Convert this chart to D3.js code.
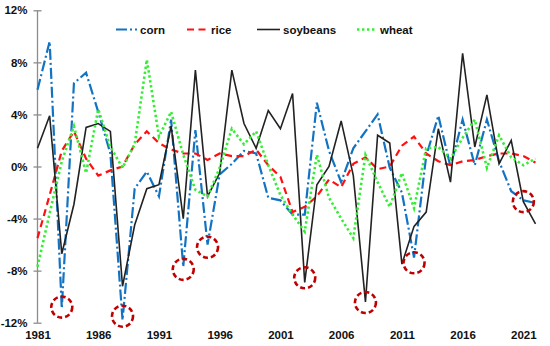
<!DOCTYPE html>
<html>
<head>
<meta charset="utf-8">
<script src="https://cdn.jsdelivr.net/npm/d3@7"></script>
<style>
html,body{margin:0;padding:0;background:#fff;}
svg{display:block;font-family:"Liberation Sans",Arial,sans-serif;}
</style>
</head>
<body>
<svg id="chart" width="550" height="346"></svg>
<script>
const years = d3.range(1981, 2023);
const corn = [5.9,9.6,-10.9,6.4,7.2,4.2,1.0,-11.8,-1.7,-0.4,-2.3,3.6,-7.7,2.8,-6.0,-0.6,0.2,1.2,1.0,-2.4,-2.6,-3.7,-3.7,4.9,1.2,-1.2,1.4,2.7,4.0,-0.1,-2.0,-7.0,0.8,3.9,0.0,3.6,0.1,3.6,0.4,-1.9,-2.6,-2.8];
const rice = [-5.5,-2.2,1.2,2.7,0.6,-0.7,-0.3,0.0,1.7,2.7,1.8,1.3,1.0,1.0,0.5,1.0,0.8,0.8,1.3,0.1,-0.8,-3.5,-3.1,-2.3,-1.0,-1.6,0.2,0.7,-0.2,0.0,1.6,2.3,1.0,0.4,0.1,0.4,0.5,0.8,1.0,1.0,0.8,0.3];
const soybeans = [1.4,3.9,-6.7,-2.9,3.0,3.3,2.7,-9.2,-4.5,-1.7,-1.4,3.1,-4.0,7.4,-2.3,-0.5,7.4,3.3,1.4,4.3,2.9,5.6,-8.9,-1.4,0.0,3.5,-0.7,-10.4,2.4,1.8,-7.5,-4.6,-3.5,2.9,-1.2,8.7,1.5,5.5,0.2,2.0,-2.7,-4.4];
const wheat = [-7.7,-3.6,0.4,3.1,-0.5,4.4,1.5,-0.1,1.7,8.2,2.3,4.2,0.9,-1.8,-2.3,-0.1,2.9,1.7,2.7,0.1,-2.2,-3.7,-5.0,0.9,-2.4,-4.0,-5.5,0.9,-1.2,-3.1,-0.5,-3.2,1.4,1.5,0.6,2.2,3.6,-0.1,2.4,0.7,0.1,0.6];
const seriesNames = ["corn","rice","soybeans","wheat"];
const yTicks = [12,8,4,0,-4,-8,-12];
const xTicks = [1981,1986,1991,1996,2001,2006,2011,2016,2021];
const circleYears = [1983,1988,1993,1995,2003,2008,2012,2021];
const circleValues = [-10.8,-11.5,-7.9,-6.2,-8.55,-10.45,-7.4,-2.7];

const styles = {
  corn:{color:"#1273c2", width:2.2, dash:"11,3,2,3"},
  rice:{color:"#ff1010", width:2.2, dash:"7,4.5"},
  soybeans:{color:"#222222", width:1.6, dash:null},
  wheat:{color:"#33ee33", width:2.6, dash:"2.4,2.6"}
};
const dataBy = {corn, rice, soybeans, wheat};

const svg = d3.select("#chart");
const x = d3.scaleLinear().domain([1981, 2022]).range([37.5, 535.5]);
const y = d3.scaleLinear().domain([-12, 12]).range([322.7, 10.3]);

// y axis
const yAxis = d3.axisLeft(y).tickValues(yTicks).tickSize(4).tickFormat(d => d + "%");
const ga = svg.append("g").attr("transform", `translate(${x(1981)},0)`).call(yAxis);
ga.select(".domain").attr("stroke", "#8c8c8c").attr("stroke-width", 1.3).attr("d", `M0,${y(12)}V${y(-12)}`);
ga.selectAll(".tick line").attr("stroke", "#8c8c8c").attr("stroke-width", 1.3).attr("x1", -4).attr("x2", 4);
ga.selectAll(".tick text").attr("x", -10).attr("fill", "#111").attr("font-size", 11.5).attr("font-weight", "bold").attr("font-family", "Liberation Sans, Arial, sans-serif");

// x labels (no axis line)
const xAxis = d3.axisBottom(x).tickValues(xTicks).tickSize(0).tickFormat(d3.format("d"));
const gx = svg.append("g").attr("transform", `translate(0,${y(-12) + 5})`).call(xAxis);
gx.select(".domain").remove();
gx.selectAll(".tick text").attr("fill", "#111").attr("font-size", 11.5).attr("font-weight", "bold").attr("font-family", "Liberation Sans, Arial, sans-serif");

// lines
const line = d3.line().x((d, i) => x(years[i])).y(d => y(d));
seriesNames.forEach(name => {
  const s = styles[name];
  svg.append("path")
    .datum(dataBy[name])
    .attr("fill", "none")
    .attr("stroke", s.color)
    .attr("stroke-width", s.width)
    .attr("stroke-dasharray", s.dash)
    .attr("stroke-linejoin", "miter")
    .attr("d", line);
});

// circles
svg.append("g").selectAll("circle")
  .data(circleYears.map((yr, i) => ({yr, v: circleValues[i]})))
  .join("circle")
  .attr("cx", d => x(d.yr))
  .attr("cy", d => y(d.v))
  .attr("r", 10.5)
  .attr("fill", "none")
  .attr("stroke", "#c00000")
  .attr("stroke-width", 2.6)
  .attr("stroke-dasharray", "5,3");

// legend
const legendX = [116, 187, 257, 357];
const legendLen = [21, 21, 23, 20];
const lg = svg.append("g");
seriesNames.forEach((name, i) => {
  const s = styles[name];
  const g = lg.append("g").attr("transform", `translate(${legendX[i]},29.5)`);
  g.append("line").attr("x1", 0).attr("x2", legendLen[i]).attr("y1", 0).attr("y2", 0)
    .attr("stroke", s.color).attr("stroke-width", s.width).attr("stroke-dasharray", s.dash);
  g.append("text").attr("x", legendLen[i] + 3).attr("y", 4).text(name)
    .attr("font-size", 11.5).attr("font-weight", "bold").attr("fill", "#111");
});
</script>
</body>
</html>
